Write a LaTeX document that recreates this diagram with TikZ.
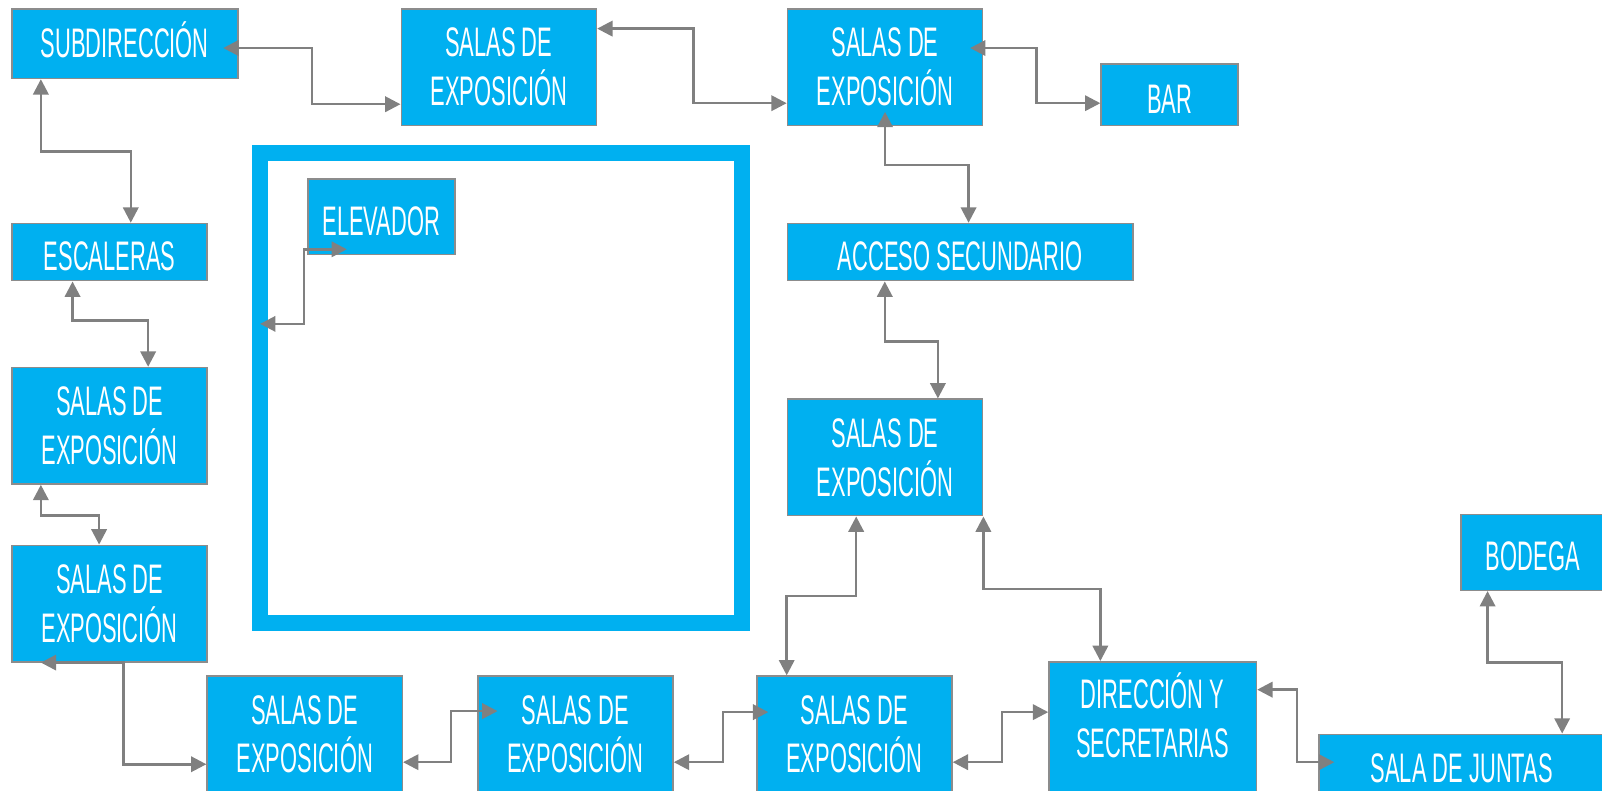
\documentclass[tikz,border=0pt]{standalone}
\usepackage{fontspec}
\setmainfont{Liberation Sans}[FakeStretch=0.53]
\usepackage{tikz}
\usetikzlibrary{positioning,calc}
\usetikzlibrary{arrows.meta}
\definecolor{RoomBlue}{RGB}{0,176,240}
\definecolor{LinkGray}{RGB}{128,128,128}
\definecolor{EdgeGray}{RGB}{140,140,140}
\tikzset{
	room/.style={draw=EdgeGray,fill=RoomBlue,text=white,line width=0.3mm,inner sep=0pt,
		anchor=north west,align=center,font=\fontsize{23pt}{27.2pt}\selectfont},
	tag/.style={room,text height=20.6pt,text depth=0pt},
	sala/.style={room,minimum width=38.2mm,minimum height=22.8mm},
	hall/.style={draw=RoomBlue,line width=3.1mm,inner sep=0pt,outer sep=0pt,anchor=north west,
		minimum width=94.4mm,minimum height=92mm},
	link/.style={draw=LinkGray,line width=0.5mm,
		{Triangle[length=3mm,width=3mm]}-{Triangle[length=3mm,width=3mm]}},
}

\begin{document}
\begin{tikzpicture}[x=0.2mm,y=-0.2mm]
	\useasboundingbox (0,0) rectangle (1568,774);
	\node[hall] (hall) at (254.6,150) {};
	\node[tag,text height=15pt,minimum width=44.2mm,minimum height=13.6mm] (sub) at (11,8) {SUBDIRECCIÓN};
	\node[sala] (salaA) at (392,8) {SALAS DE\\EXPOSICIÓN};
	\node[sala] (salaB) at (770,8) {SALAS DE\\EXPOSICIÓN};
	\node[tag,minimum width=26.8mm,minimum height=12mm] (bar) at (1077,62) {BAR};
	\node[tag,minimum width=38.2mm,minimum height=11.2mm] (esc) at (11,218) {ESCALERAS};
	\node[tag,minimum width=28.8mm,minimum height=14.8mm] (elev) at (300.5,174.5) {ELEVADOR};
	\node[tag,minimum width=67.6mm,minimum height=11.2mm] (acc) at (770,218) {ACCESO SECUNDARIO};
	\node[sala] (salaC) at (11,359) {SALAS DE\\EXPOSICIÓN};
	\node[sala] (salaD) at (11,533) {SALAS DE\\EXPOSICIÓN};
	\node[sala] (salaE) at (770,390) {SALAS DE\\EXPOSICIÓN};
	\node[tag,minimum width=28.2mm,minimum height=14.8mm] (bod) at (1429,503) {BODEGA};
	\node[sala] (salaF) at (202,661) {SALAS DE\\EXPOSICIÓN};
	\node[sala] (salaG) at (467,661) {SALAS DE\\EXPOSICIÓN};
	\node[sala] (salaH) at (740,661) {SALAS DE\\EXPOSICIÓN};
	\node[room,minimum width=40.6mm,inner ysep=2.2mm] (dir) at (1026,647) {DIRECCIÓN Y\\SECRETARIAS\rule[-12mm]{0pt}{12mm}};
	\node[tag,text height=16.5pt,minimum width=56mm,minimum height=13.2mm] (jun) at (1290,718) {SALA DE JUNTAS};

	\draw[link] ($(sub.north east)+(-15,39)$) -- ++(87,0) |- ($(salaA.north west)+(0,94)$);
	\draw[link] ($(salaA.north east)+(0,20)$) -- ++(94,0) |- ($(salaB.north west)+(0,93)$);
	\draw[link] ($(salaB.north east)+(-13,39)$) -- ++(65,0) |- ($(bar.north west)+(0,39)$);
	\draw[link] ($(salaB.south)+(0,-14)$) -- ++(0,52) -| ($(acc.north west)+(178,0)$);
	\draw[link] ($(sub.south west)+(29,0)$) -- ++(0,71) -| ($(esc.north west)+(117,0)$);
	\draw[link] ($(esc.south west)+(60,0)$) -- ++(0,38) -| ($(salaC.north west)+(134,0)$);
	\draw[link] ($(salaC.south west)+(29,0)$) -- ++(0,30) -| ($(salaD.north west)+(86,0)$);
	\draw[link] ($(salaD.south west)+(29,0)$) -- ++(81,0) |- ($(salaF.north west)+(0,87)$);
	\draw[link] ($(salaF.north east)+(0,85)$) -- ++(47,0) |- ($(salaG.north west)+(20,35)$);
	\draw[link] ($(salaG.north east)+(0,85)$) -- ++(48,0) |- ($(salaH.north west)+(12,36)$);
	\draw[link] ($(salaE.south west)+(68,0)$) -- ++(0,78) -| ($(salaH.north west)+(30,0)$);
	\draw[link] (salaE.south east) -- ++(0,71) -| ($(dir.north west)+(51,0)$);
	\draw[link] ($(acc.south west)+(96,0)$) -- ++(0,59) -| ($(salaE.north west)+(148,0)$);
	\draw[link] ($(salaH.north east)+(0,85)$) -- ++(48,0) |- ($(dir.north west)+(0,50)$);
	\draw[link] ($(dir.north east)+(0,28)$) -- ++(39,0) |- ($(jun.north west)+(16,28)$);
	\draw[link] ($(bod.south west)+(27,0)$) -- ++(0,70) -| ($(jun.north west)+(239,0)$);
	\draw[link] ($(elev.south west)+(39,-6)$) -- ++(-42,0) |- ($(hall.north west)+(0,167)$);
\end{tikzpicture}
\end{document}
